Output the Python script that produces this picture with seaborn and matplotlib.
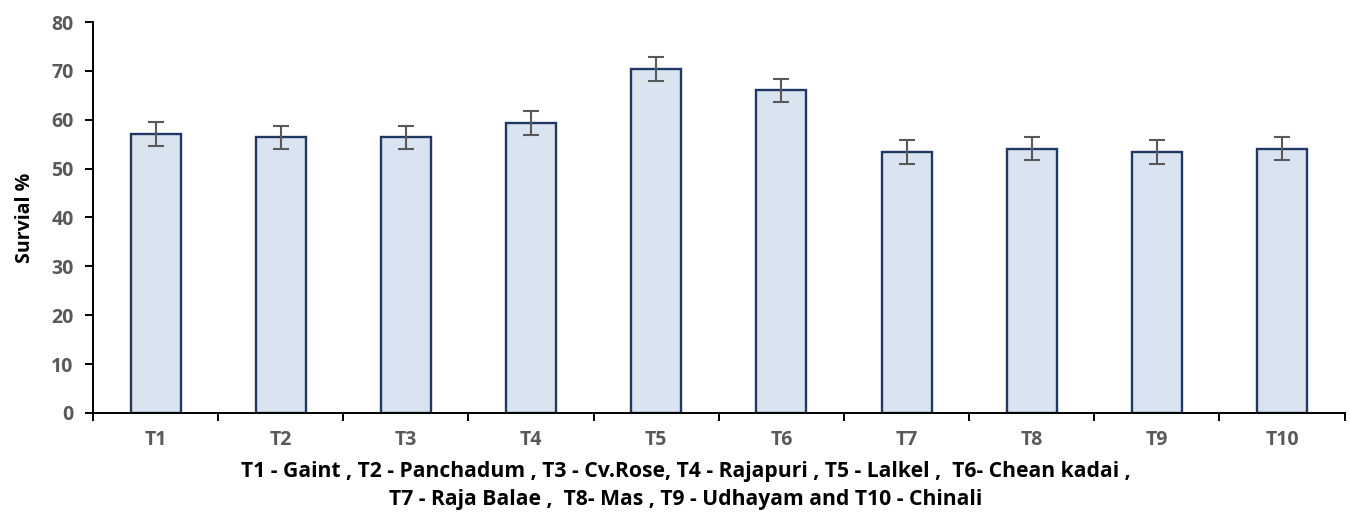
import matplotlib
matplotlib.use("Agg")
import matplotlib.pyplot as plt
from matplotlib.ticker import FixedLocator
import seaborn as sns
import pandas as pd

treatments = ["T1", "T2", "T3", "T4", "T5", "T6", "T7", "T8", "T9", "T10"]
survival = [57.1, 56.4, 56.4, 59.3, 70.4, 66.0, 53.4, 54.1, 53.4, 54.1]
errors = [2.4, 2.4, 2.4, 2.4, 2.4, 2.4, 2.4, 2.4, 2.4, 2.4]
y_ticks = [0, 10, 20, 30, 40, 50, 60, 70, 80]
note_lines = [
    "T1 - Gaint , T2 - Panchadum , T3 - Cv.Rose, T4 - Rajapuri , T5 - Lalkel ,  T6- Chean kadai ,",
    "T7 - Raja Balae ,  T8- Mas , T9 - Udhayam and T10 - Chinali",
]

sns.set_theme(style="white")
plt.rcParams["font.family"] = ["Open Sans", "DejaVu Sans"]

df = pd.DataFrame({"treatment": treatments, "survival": survival})

fig = plt.figure(figsize=(13.5, 5.29), dpi=100)
ax = fig.add_axes([0.0689, 0.2193, 0.9271, 0.7391])

sns.barplot(data=df, x="treatment", y="survival", ax=ax, width=0.4,
            color="#DAE3F0", edgecolor="#1F3864", linewidth=1.7,
            saturation=1, errorbar=None)
ax.errorbar(range(len(treatments)), survival, yerr=errors, fmt="none",
            ecolor="#595959", elinewidth=1.5, capsize=6, capthick=1.5, zorder=5)

ax.set_xlim(-0.5, len(treatments) - 0.5)
ax.set_ylim(0, 80)
ax.set_yticks(y_ticks)
ax.set_yticklabels([str(v) for v in y_ticks])

for side in ("top", "right"):
    ax.spines[side].set_visible(False)
for side in ("left", "bottom"):
    ax.spines[side].set_color("black")
    ax.spines[side].set_linewidth(1.4)

ax.tick_params(axis="y", which="major", direction="out", length=6, width=1.4,
               color="black", labelsize=14, labelcolor="#595959", pad=8, left=True)
ax.tick_params(axis="x", which="major", length=0, labelsize=14,
               labelcolor="#595959", pad=12)
ax.xaxis.set_minor_locator(FixedLocator([i - 0.5 for i in range(len(treatments) + 1)]))
ax.tick_params(axis="x", which="minor", direction="out", length=6, width=1.4,
               color="black", bottom=True)
for lbl in ax.get_xticklabels() + ax.get_yticklabels():
    lbl.set_fontweight("bold")

ax.set_xlabel("")
ax.set_ylabel("Survial %", fontsize=14, fontweight="bold", color="black", labelpad=12)

fig.text(686 / 1350, 1 - 471 / 529, note_lines[0], ha="center", va="center",
         fontsize=15.2, fontweight="bold", color="black")
fig.text(686 / 1350, 1 - 500 / 529, note_lines[1], ha="center", va="center",
         fontsize=15.2, fontweight="bold", color="black")

fig.savefig("out.png", dpi=100)
